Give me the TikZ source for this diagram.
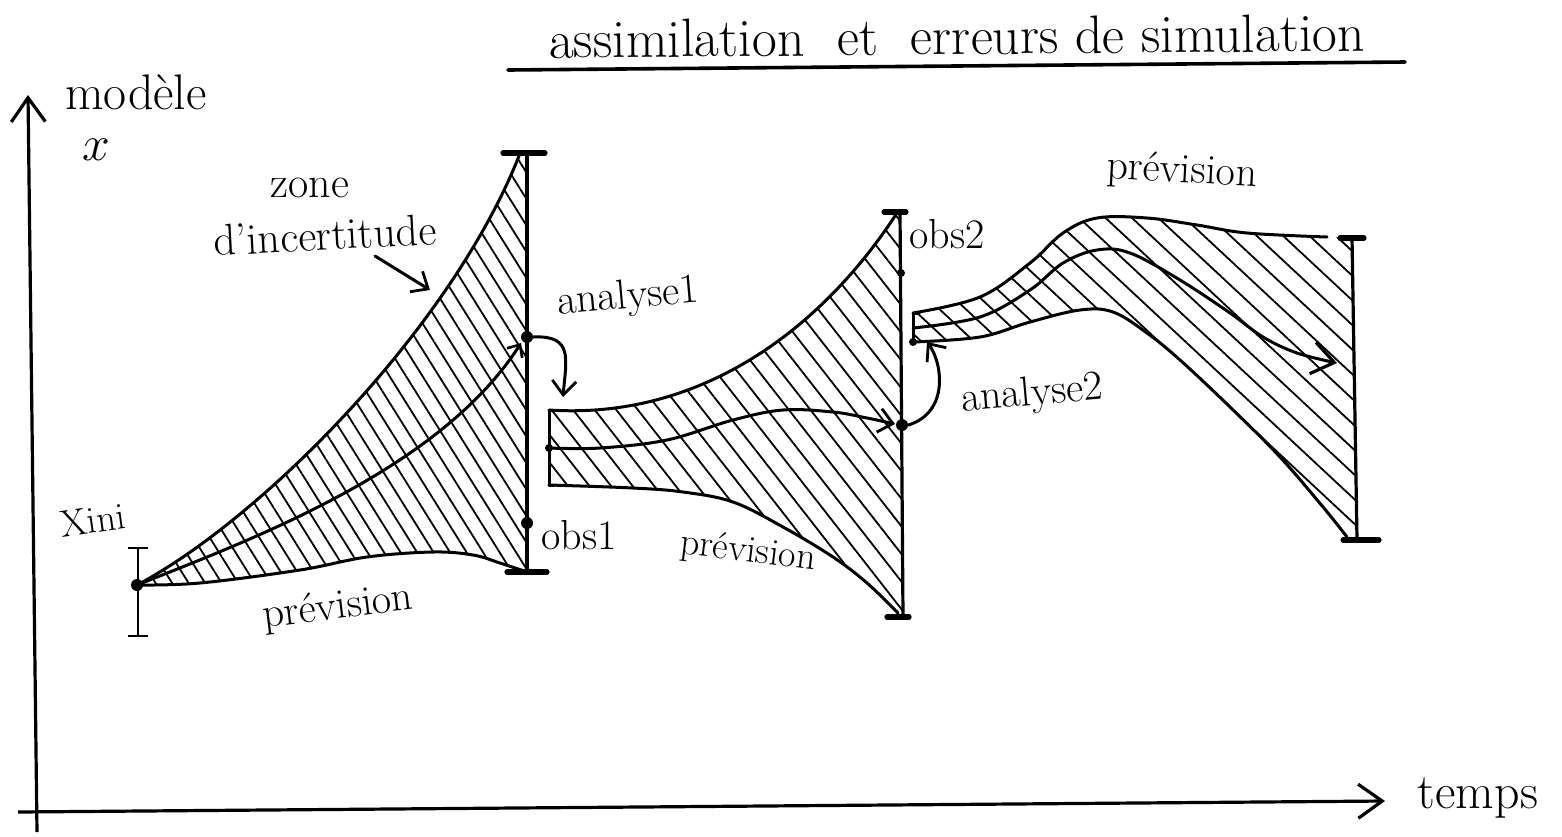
\documentclass[tikz,border=0pt]{standalone}
\usetikzlibrary{arrows.meta,patterns.meta}
\begin{document}
\begin{tikzpicture}[x=0.5pt,y=-0.5pt,
  inkline/.style={line width=1.5pt, line cap=round, line join=round},
  barline/.style={line width=1.6pt},
  capline/.style={line width=2.6pt, line cap=round},
  thincap/.style={line width=0.8pt},
  hatchA/.style={pattern={Lines[angle=-58,distance=7pt,line width=0.9pt]}},
  hatchB/.style={pattern={Lines[angle=-52,distance=8.5pt,line width=0.9pt]}},
  hatchC/.style={pattern={Lines[angle=-43,distance=9pt,line width=0.9pt]}},
  smallbarb/.style={-{Straight Barb[length=5pt,width=9pt,line width=1.3pt]}},
  midbarb/.style={-{Straight Barb[length=7pt,width=12pt,line width=1.4pt]}},
  bigbarb/.style={-{Straight Barb[length=11pt,width=16pt,line width=1.6pt]}},
  axisbarb/.style={-{Straight Barb[length=12pt,width=17pt,line width=1.6pt]}},
  bigdot/.style={circle, fill, inner sep=0pt, minimum size=6pt},
  smalldot/.style={circle, fill, inner sep=0pt, minimum size=4pt},
  lbl/.style={inner sep=0pt, font=\fontsize{21}{24}\selectfont},
  biglbl/.style={inner sep=0pt, font=\fontsize{25}{28}\selectfont},
]
\useasboundingbox (0,0) rectangle (1562,836);

% ---------- axes ----------
\coordinate (ybot) at (37,832);
\coordinate (ytop) at (28,95);
\coordinate (xleft) at (18,812);
\coordinate (xright) at (1385,801);
\draw[barline, axisbarb] (ybot) -- (ytop);
\draw[barline, axisbarb] (xleft) -- (xright);
\node[biglbl] (ylab) at (136,92) {modèle};
\node[biglbl] (ysym) at (96,150) {$x$};
\node[biglbl] (xlab) at (1478,798) {temps};

% ---------- title ----------
\node[biglbl, font=\fontsize{27}{30}\selectfont, rotate=0.5] (title) at (957,36) {assimilation \ et \ erreurs de simulation};
\coordinate (ul1) at (508,70);
\coordinate (ul2) at (1405,62);
\draw[line width=1.8pt, line cap=round] (ul1) -- (ul2);

% ---------- key points ----------
\node[bigdot] (xini) at (137,585) {};
\coordinate (ebtop) at (138,548);
\coordinate (ebbot) at (138,636);
\coordinate (top1) at (527,153);
\coordinate (u1end) at (519,156);
\coordinate (bot1) at (527,572);
\node[bigdot] (a1) at (527,337) {};
\node[bigdot] (o1) at (527,523) {};

\coordinate (s2t) at (549,410);
\node[smalldot] (s2m) at (549,448) {};
\coordinate (s2b) at (549,485);
\coordinate (u2end) at (895,216);
\coordinate (top2) at (900,212);
\coordinate (bot2) at (903,617);
\node[smalldot] (o2) at (901,273) {};
\node[bigdot] (a2) at (902,425) {};

\coordinate (s3t) at (913,313);
\coordinate (s3m) at (913,328);
\node[smalldot] (s3b) at (913,342) {};
\coordinate (top3) at (1352,238);
\coordinate (bot3) at (1357,540);

% ---------- hatched zones ----------
\fill[hatchA] (xini.center) .. controls (260,520) and (450,330) .. (u1end)
  -- (top1) -- (bot1)
  -- plot[smooth,tension=0.6] coordinates {(bot1) (500,563) (473,555) (433,552) (367,557) (300,570) (200,583) (xini.center)} -- cycle;

\fill[hatchB] (s2t) .. controls (700,420) and (820,330) .. (u2end)
  -- (top2) -- (bot2)
  -- plot[smooth,tension=0.6] coordinates {(898,613) (867,583) (833,557) (783,527) (733,502) (683,492) (633,488) (s2b)} -- cycle;

\fill[hatchC] plot[smooth,tension=0.6] coordinates {(s3t) (980,297) (1030,263) (1063,233) (1097,218) (1147,218) (1197,225) (1247,233) (1327,237)}
  -- (top3) -- (bot3)
  -- plot[smooth,tension=0.6] coordinates {(1347,537) (1323,507) (1280,457) (1230,407) (1180,360) (1147,333) (1113,312) (1080,310) (1030,322) (980,337) (s3b.center)} -- cycle;

% ---------- zone 1 curves ----------
\draw[inkline] (xini.center) .. controls (260,520) and (450,330) .. (u1end);
\draw[inkline] plot[smooth,tension=0.6] coordinates {(xini.center) (200,583) (300,570) (367,557) (433,552) (473,555) (500,563) (bot1)};
\draw[inkline, smallbarb] (xini.center) .. controls (250,540) and (440,470) .. (521,343);

% error bar of xini
\draw[thincap] (ebtop) -- (ebbot);
\draw[thincap] ([xshift=-5pt]ebtop) -- ([xshift=5pt]ebtop);
\draw[thincap] ([xshift=-5pt]ebbot) -- ([xshift=5pt]ebbot);

% vertical bar 1
\draw[barline] (top1) -- (bot1);
\draw[capline] ([xshift=-12pt]top1) -- ([xshift=9pt]top1);
\draw[capline] ([xshift=-10pt]bot1) -- ([xshift=10pt]bot1);

% ---------- zone 2 curves ----------
\draw[inkline] (s2t) -- (s2b);
\draw[inkline] (s2t) -- ++(5,0);
\draw[inkline] (s2b) -- ++(5,0);
\draw[inkline] (s2t) .. controls (700,420) and (820,330) .. (u2end);
\draw[inkline] plot[smooth,tension=0.6] coordinates {(s2b) (633,488) (683,492) (733,502) (783,527) (833,557) (867,583) (898,613)};
\draw[inkline, midbarb] plot[smooth,tension=0.6] coordinates {(s2m.center) (600,448) (667,440) (733,420) (783,410) (833,412) (867,418) (895,424)};

\draw[barline] (top2) -- (bot2);
\draw[capline] ([xshift=-8pt]top2) -- ([xshift=3pt]top2);
\draw[capline] ([xshift=-8pt]bot2) -- ([xshift=3pt]bot2);

% ---------- zone 3 curves ----------
\draw[inkline] (s3t) -- (s3b.center);
\draw[inkline] (s3t) -- ++(6,0);
\draw[inkline] plot[smooth,tension=0.6] coordinates {(s3t) (980,297) (1030,263) (1063,233) (1097,218) (1147,218) (1197,225) (1247,233) (1327,237)};
\draw[inkline] plot[smooth,tension=0.6] coordinates {(s3b.center) (980,337) (1030,322) (1080,310) (1113,312) (1147,333) (1180,360) (1230,407) (1280,457) (1323,507) (1347,537)};
\draw[inkline, bigbarb] plot[smooth,tension=0.6] coordinates {(s3m) (980,317) (1030,290) (1063,263) (1097,250) (1130,253) (1180,280) (1230,313) (1263,337) (1297,353) (1337,363)};

\draw[barline] (top3) -- (bot3);
\draw[capline] ([xshift=-6pt]top3) -- ([xshift=6pt]top3);
\draw[capline] ([xshift=-7pt]bot3) -- ([xshift=11pt]bot3);

% ---------- analysis arrows ----------
\coordinate (a1tip) at (563,397);
\draw[inkline, midbarb] (a1.east) .. controls (574,335) and (566,360) .. (a1tip);
\coordinate (a2tip) at (927,342);
\draw[inkline, midbarb] (a2.east) .. controls (950,412) and (942,362) .. (a2tip);

% ---------- labels ----------
\node[lbl, font=\fontsize{22}{24}\selectfont] (zlab1) at (310,188) {zone};
\node[lbl, font=\fontsize{22}{24}\selectfont, rotate=3] (zlab2) at (325,235) {d'incertitude};
\coordinate (zarrow) at (430,290);
\draw[inkline, midbarb] (375,256) -- (zarrow);

\node[lbl, font=\fontsize{19}{22}\selectfont, rotate=8] (xinilab) at (93,520) {Xini};
\node[lbl, rotate=7] (prev1) at (338,608) {prévision};
\node[lbl, rotate=5] (an1) at (628,298) {analyse1};
\node[lbl] (obs1) at (579,535) {obs1};
\node[lbl, font=\fontsize{19}{22}\selectfont, rotate=-7] (prev2) at (748,552) {prévision};
\node[lbl] (obs2) at (947,234) {obs2};
\node[lbl, rotate=5] (an2) at (1032,395) {analyse2};
\node[lbl, rotate=-3] (prev3) at (1182,172) {prévision};
\end{tikzpicture}
\end{document}
